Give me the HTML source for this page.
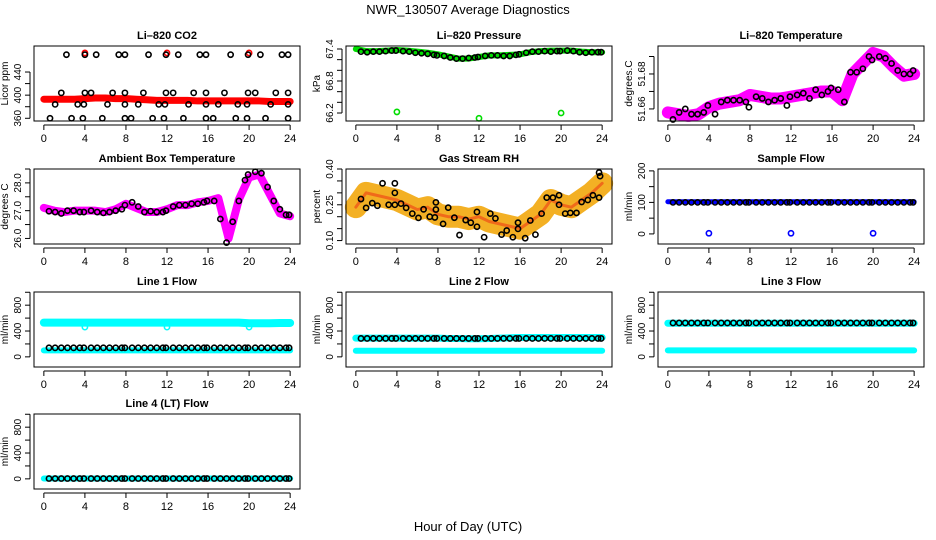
<!DOCTYPE html>
<html><head><meta charset="utf-8"><style>
html,body{margin:0;padding:0;background:#fff;}
svg{display:block;font-family:"Liberation Sans",sans-serif;}
</style></head><body>
<svg id="chart" width="936" height="540" viewBox="0 0 936 540" xmlns="http://www.w3.org/2000/svg">
<text x="468" y="14" text-anchor="middle" font-size="13">NWR_130507  Average Diagnostics</text>
<text x="468" y="531" text-anchor="middle" font-size="13">Hour of Day (UTC)</text>
</svg>
<script>
// ---- data ----
const hrs=[0.5,1.1,1.7,2.3,2.9,3.5,3.9,4.6,5.2,5.8,6.4,7.0,7.6,7.9,8.6,9.2,9.8,10.4,11.0,11.6,11.9,12.6,13.2,13.8,14.4,15.0,15.6,15.9,16.6,17.2,17.8,18.4,19.0,19.6,19.9,20.6,21.2,21.8,22.4,23.0,23.6,23.9];
const bandHrs=[0,1,2,3,4,5,6,7,8,9,10,11,12,13,14,15,16,17,18,19,20,21,22,23,24];
// CO2
const co2BlackHrs=[2.2,4.0,5.1,7.3,7.9,10.2,11.9,13.1,15.2,15.8,18.2,19.9,21.1,23.2,23.8,1.7,4.0,4.6,6.7,7.9,9.7,11.9,12.6,14.6,15.8,17.6,19.9,20.6,22.6,23.8,1.1,3.3,3.9,6.2,7.9,9.2,11.2,11.8,14.1,15.8,17.0,18.9,19.8,22.1,23.8,0.6,2.7,3.8,5.7,7.9,8.5,10.6,11.7,13.6,15.8,16.5,18.7,19.8,21.6,23.8];
const co2BlackVals=[470,470,470,470,470,470,470,470,470,470,470,470,470,470,470,404,404,404,404,404,404,404,404,404,404,404,404,404,404,404,384,384,384,384,384,384,384,384,384,384,384,384,384,384,384,360,360,360,360,360,360,360,360,360,360,360,360,360,360,360];
const co2Band=[393,393,393,393,394,395,395,394,394,393,392,391,391,391,391,390,390,390,390,390,390,390,389,389,389];
const co2OutHrs=[4,12,20];
const co2OutVals=[473,473,473];
// Pressure
const presBand=[67.40,67.36,67.36,67.37,67.38,67.37,67.35,67.33,67.30,67.26,67.22,67.22,67.25,67.28,67.28,67.29,67.30,67.34,67.36,67.37,67.37,67.37,67.35,67.34,67.34];
const presBlack=[67.35,67.34,67.35,67.35,67.36,67.37,67.37,67.36,67.35,67.33,67.32,67.31,67.29,67.28,67.27,67.24,67.22,67.22,67.23,67.24,67.25,67.27,67.28,67.28,67.27,67.27,67.29,67.30,67.33,67.35,67.35,67.36,67.35,67.36,67.36,67.37,67.36,67.34,67.33,67.34,67.34,67.34];
const presOutHrs=[4,12,20];
const presOutVals=[66.22,66.10,66.20];
// Li-820 temperature
const ltBand=[51.658,51.657,51.656,51.657,51.661,51.663,51.664,51.665,51.668,51.667,51.666,51.666,51.667,51.668,51.669,51.670,51.670,51.665,51.680,51.686,51.692,51.690,51.684,51.679,51.680];
const ltBlack=[51.654,51.658,51.660,51.657,51.657,51.658,51.662,51.657,51.664,51.665,51.665,51.665,51.664,51.661,51.667,51.666,51.664,51.665,51.666,51.662,51.667,51.668,51.669,51.666,51.671,51.668,51.670,51.672,51.671,51.664,51.681,51.681,51.683,51.690,51.688,51.690,51.689,51.686,51.682,51.680,51.680,51.682];
// Ambient box temperature
const abBand=[27.1,27.0,26.95,27.0,27.0,27.0,26.95,27.05,27.25,27.1,26.95,26.95,27.05,27.2,27.2,27.3,27.35,27.45,26.0,27.4,28.2,28.3,27.6,26.9,26.8];
const abBlack=[26.98,26.95,26.9,27.0,27.0,26.95,26.95,27.0,26.95,26.92,26.95,27.0,27.05,27.2,27.3,27.15,26.95,26.98,26.95,26.95,27.0,27.15,27.2,27.2,27.25,27.25,27.3,27.35,27.35,26.7,25.85,26.6,27.35,28.1,28.3,28.4,28.35,27.85,27.35,27.05,26.85,26.85];
// Gas stream RH
const rhBand=[0.24,0.30,0.29,0.28,0.27,0.25,0.23,0.24,0.21,0.20,0.20,0.19,0.20,0.18,0.17,0.16,0.15,0.18,0.21,0.27,0.25,0.24,0.27,0.30,0.34];
const rhHrs=[0.5,1.0,1.6,2.1,2.6,3.2,3.8,3.8,3.8,4.4,4.9,5.5,6.1,6.6,7.2,7.7,7.8,7.8,8.5,9.0,9.6,10.1,10.7,11.2,11.8,11.8,12.5,13.1,13.6,14.2,14.7,15.3,15.8,15.8,16.5,17.0,17.5,18.1,18.6,19.2,19.8,19.8,20.4,20.9,21.5,22.0,22.6,23.1,23.7,23.8,23.7];
const rhVals=[0.274,0.237,0.257,0.246,0.34,0.25,0.34,0.30,0.25,0.255,0.237,0.213,0.195,0.231,0.2,0.197,0.26,0.23,0.17,0.238,0.196,0.123,0.186,0.175,0.22,0.158,0.114,0.213,0.193,0.125,0.142,0.114,0.175,0.149,0.11,0.184,0.125,0.213,0.28,0.28,0.29,0.25,0.213,0.216,0.216,0.262,0.27,0.29,0.385,0.37,0.28];
// Flows
const sfBand=[102,102,102,102,102,102,102,102,102,102,102,102,102,102,102,102,102,102,102,102,102,102,102,102,102];
const sfBlack=hrs.map(()=>100);
const sfOutHrs=[4,12,20];const sfOutVals=[2,2,2];
const l1BandHi=[530,530,530,530,530,530,530,530,530,530,530,530,530,530,530,530,530,530,530,530,520,520,520,525,525];
const l1BandLo=[100,100,100,100,100,100,100,100,100,100,100,100,100,100,100,100,100,100,100,100,100,100,100,100,100];
const l1Black=hrs.map(()=>140);
const l1OutHrs=[4,12,20];const l1OutVals=[460,460,460];
const l2BandHi=[290,290,290,290,290,290,290,290,290,285,285,280,280,285,290,295,300,300,300,300,300,300,300,300,300];
const l2BandLo=[95,95,95,95,95,95,95,95,95,95,95,95,95,95,95,95,95,95,95,95,95,95,95,95,95];
const l2Black=hrs.map(()=>285);
const l3BandHi=[520,520,520,520,520,520,520,520,520,520,520,520,520,520,520,520,520,520,520,520,520,520,520,520,520];
const l3BandLo=[100,100,100,100,100,100,100,100,100,100,100,100,100,100,100,100,100,100,100,100,100,100,100,100,100];
const l3Black=hrs.map(()=>525);
const l4Band=[5,5,5,5,5,5,5,5,5,5,5,5,5,5,5,5,5,5,5,5,5,5,5,5,5];
const l4Black=hrs.map(()=>5);
const xTicks=[0,4,8,12,16,20,24];

// ---- drawing ----
const svg=document.getElementById('chart');
const NS='http://www.w3.org/2000/svg';
function mk(tag,attrs,parent){const e=document.createElementNS(NS,tag);for(const k in attrs)e.setAttribute(k,attrs[k]);(parent||svg).appendChild(e);return e;}
const colX=[34,346,658], rowY=[46,169,292,414], W=266, H=75;
function panel(name,col,row,title,ylab,ymin,ymax,ticks,labels,dec,draw){
  const g=mk('g',{});
  
  
  const L=colX[col],T=rowY[row];
  const sx=h=>L+W*(h+0.96)/25.92;
  const sy=v=>T+H*(ymax-v)/(ymax-ymin);
  const t=mk('text',{x:L+W/2,y:T-7,'text-anchor':'middle','font-size':11,'font-weight':'bold'},g);t.textContent=title;
  
  
  draw(g,sx,sy);
  const box=mk('rect',{x:L,y:T,width:W,height:H,fill:'none',stroke:'#000','stroke-width':1},g);
  
  
  const xa=mk('g',{},g);
  
  
  mk('line',{x1:sx(0),x2:sx(24),y1:T+H+4,y2:T+H+4,stroke:'#000'},xa);
  xTicks.forEach(h=>{mk('line',{x1:sx(h),x2:sx(h),y1:T+H+4,y2:T+H+9,stroke:'#000'},xa);
    const tt=mk('text',{x:sx(h),y:T+H+21,'text-anchor':'middle','font-size':11},xa);tt.textContent=h;});
  const ya=mk('g',{},g);
  
  
  mk('line',{x1:L-4,x2:L-4,y1:sy(ticks[0]),y2:sy(ticks[ticks.length-1]),stroke:'#000'},ya);
  ticks.forEach(v=>{mk('line',{x1:L-9,x2:L-4,y1:sy(v),y2:sy(v),stroke:'#000'},ya);});
  labels.forEach(v=>{const y=sy(v);const tt=mk('text',{x:L-13,y:y,'text-anchor':'middle','font-size':10,transform:`rotate(-90 ${L-13} ${y})`},ya);tt.textContent=v.toFixed(dec);});
  const yl=mk('text',{x:L-26,y:T+H/2,'text-anchor':'middle','font-size':10,transform:`rotate(-90 ${L-26} ${T+H/2})`},g);yl.textContent=ylab;
  
  
}
function band(g,sx,sy,vals,color,w,name){
  const p=mk('polyline',{points:bandHrs.map((h,i)=>sx(h)+','+sy(vals[i])).join(' '),fill:'none',stroke:color,'stroke-width':w,'stroke-linejoin':'round','stroke-linecap':'round'},g);
  
  
}
function pts(g,sx,sy,xs,ys,color,name,fill){
  xs.forEach((h,i)=>{const c=mk('circle',{cx:sx(h),cy:sy(ys[i]),r:2.6,fill:fill||'none',stroke:color,'stroke-width':1.6},g);
    
    });
}
panel('co2',0,0,'Li–820 CO2','Licor ppm',355.3,485,[360,380,400,420,440],[360,400,440],0,(g,sx,sy)=>{
  band(g,sx,sy,co2Band,'#ff0000',7,'co2-band');
  pts(g,sx,sy,co2OutHrs,co2OutVals,'#ff0000','co2-red-point');
  pts(g,sx,sy,co2BlackHrs,co2BlackVals,'#000','co2-black-point');
});
panel('pressure',1,0,'Li–820 Pressure','kPa',66.05,67.456,[66.2,66.4,66.6,66.8,67.0,67.2,67.4],[66.2,66.8,67.4],1,(g,sx,sy)=>{
  band(g,sx,sy,presBand,'#00dd00',6,'pressure-band');
  pts(g,sx,sy,hrs,presBlack,'#000','pressure-black-point');
  pts(g,sx,sy,presOutHrs,presOutVals,'#00dd00','pressure-green-point');
});
panel('li820-temp',2,0,'Li–820 Temperature','degrees.C',51.6531,51.696,[51.66,51.67,51.68,51.69],[51.66,51.68],2,(g,sx,sy)=>{
  band(g,sx,sy,ltBand,'#ff00ff',12,'li820-temp-band');
  pts(g,sx,sy,hrs,ltBlack,'#000','li820-temp-black-point');
});
panel('ambient',0,1,'Ambient Box Temperature','degrees C',25.8,28.5,[26.0,26.5,27.0,27.5,28.0,28.5],[26.0,27.0,28.0],1,(g,sx,sy)=>{
  band(g,sx,sy,abBand,'#ff00ff',8,'ambient-band');
  pts(g,sx,sy,hrs,abBlack,'#000','ambient-black-point');
});
panel('rh',1,1,'Gas Stream RH','percent',0.0856,0.4,[0.10,0.15,0.20,0.25,0.30,0.35,0.40],[0.10,0.25,0.40],2,(g,sx,sy)=>{
  band(g,sx,sy,rhBand,'#f3b024',22,'rh-band');
  band(g,sx,sy,rhBand,'#f06a1a',3,'rh-band-core');
  pts(g,sx,sy,rhHrs,rhVals,'#000','rh-black-point');
});
panel('sample-flow',2,1,'Sample Flow','ml/min',-32,206,[0,50,100,150,200],[0,100,200],0,(g,sx,sy)=>{
  band(g,sx,sy,sfBand,'#0000ff',5,'sample-flow-band');
  pts(g,sx,sy,hrs,sfBlack,'#000','sample-flow-black-point');
  pts(g,sx,sy,sfOutHrs,sfOutVals,'#0000ff','sample-flow-blue-point');
});
const fT=[0,200,400,600,800,1000],fL=[0,400,800];
panel('line1',0,2,'Line 1 Flow','ml/min',-157,1004,fT,fL,0,(g,sx,sy)=>{
  band(g,sx,sy,l1BandHi,'#00ffff',8,'line1-band-high');
  band(g,sx,sy,l1BandLo,'#00ffff',6,'line1-band-low');
  pts(g,sx,sy,l1OutHrs,l1OutVals,'#00ffff','line1-cyan-point');
  pts(g,sx,sy,hrs,l1Black,'#000','line1-black-point');
});
panel('line2',1,2,'Line 2 Flow','ml/min',-157,1004,fT,fL,0,(g,sx,sy)=>{
  band(g,sx,sy,l2BandHi,'#00ffff',7,'line2-band-high');
  band(g,sx,sy,l2BandLo,'#00ffff',6,'line2-band-low');
  pts(g,sx,sy,hrs,l2Black,'#000','line2-black-point');
});
panel('line3',2,2,'Line 3 Flow','ml/min',-157,1004,fT,fL,0,(g,sx,sy)=>{
  band(g,sx,sy,l3BandHi,'#00ffff',7,'line3-band-high');
  band(g,sx,sy,l3BandLo,'#00ffff',6,'line3-band-low');
  pts(g,sx,sy,hrs,l3Black,'#000','line3-black-point');
});
panel('line4',0,3,'Line 4 (LT) Flow','ml/min',-157,1004,fT,fL,0,(g,sx,sy)=>{
  band(g,sx,sy,l4Band,'#00ffff',6,'line4-band');
  pts(g,sx,sy,hrs,l4Black,'#000','line4-black-point');
});
</script>
</body></html>
